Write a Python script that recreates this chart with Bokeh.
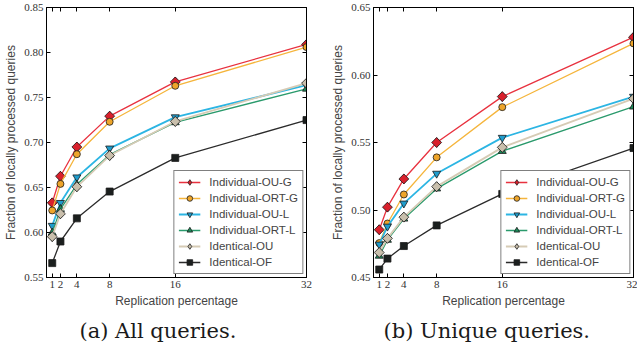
import math
from bokeh.plotting import figure
from bokeh.layouts import row
from bokeh.models import (Range1d, FixedTicker, LinearAxis, Legend, LegendItem,
                          Title, PrintfTickFormatter, CustomJSTickFormatter)
from bokeh.embed import file_html
from bokeh.resources import INLINE

# ---------------- data ----------------
x_pct = [1, 2, 4, 8, 16, 32]
x_ticks = [1, 2, 4, 8, 16, 32]

series_names = ["Individual-OU-G", "Individual-ORT-G", "Individual-OU-L",
                "Individual-ORT-L", "Identical-OU", "Identical-OF"]

# (a) All queries
all_ou_g = [0.633, 0.6625, 0.695, 0.7293, 0.7673, 0.809]
all_ort_g = [0.6245, 0.654, 0.687, 0.723, 0.763, 0.806]
all_ou_l = [0.6076, 0.633, 0.6614, 0.6935, 0.7282, 0.7637]
all_ort_l = [0.5997, 0.626, 0.6533, 0.6865, 0.7223, 0.7596]
all_ident_ou = [0.5954, 0.6208, 0.6508, 0.6855, 0.7234, 0.7659]
all_ident_of = [0.566, 0.590, 0.6157, 0.6455, 0.6829, 0.7249]

# (b) Unique queries
uniq_ou_g = [0.4854, 0.5021, 0.523, 0.550, 0.584, 0.628]
uniq_ort_g = [0.4755, 0.490, 0.5115, 0.539, 0.5762, 0.6234]
uniq_ou_l = [0.4745, 0.4878, 0.5049, 0.527, 0.5536, 0.584]
uniq_ort_l = [0.466, 0.4778, 0.4935, 0.5158, 0.5436, 0.5765]
uniq_ident_ou = [0.4685, 0.479, 0.4947, 0.5173, 0.5464, 0.5825]
uniq_ident_of = [0.4559, 0.464, 0.4733, 0.4886, 0.5119, 0.5459]

y_ticks_all = [0.55, 0.60, 0.65, 0.70, 0.75, 0.80, 0.85]
y_ticks_uniq = [0.45, 0.50, 0.55, 0.60, 0.65]

x_label = "Replication percentage"
y_label = "Fraction of locally processed queries"
caption_all = "(a) All queries."
caption_uniq = "(b) Unique queries."

# ---------------- styles ----------------
line_colors = ["#e8323f", "#f5b53c", "#2cb5e3", "#2a9a6c", "#d6cbb5", "#2b2b2b"]
fill_colors = ["#d9202c", "#eea52a", "#1f9ccc", "#1d8a5a", "#c9bfac", "#1b1f1e"]
markers = ["square", "circle", "inverted_triangle", "triangle", "square", "square"]
angles = [math.pi / 4, 0, 0, 0, math.pi / 4, 0]
sizes = [7, 7, 8, 8, 7, 7]
# marker shown in the legend (Bokeh's legend ignores marker angle)
legend_markers = ["diamond", None, None, None, "diamond", None]
legend_sizes = [9.6, 0, 0, 0, 9.6, 0]
line_widths = [1.3, 1.3, 1.8, 1.3, 1.8, 1.3]

SANS = "Liberation Sans"
SERIF = "Liberation Serif"
CAP_SERIF = "DejaVu Serif"


def style_axis(ax, ticks, labels):
    ax.ticker = FixedTicker(ticks=ticks)
    ax.axis_line_color = "black"
    ax.major_tick_in = 4
    ax.major_tick_out = 0
    ax.minor_tick_line_color = None
    ax.major_tick_line_color = "black"
    if labels:
        ax.major_label_text_font = SERIF
        ax.major_label_text_font_size = "11px"
        ax.major_label_text_color = "#333333"
        ax.major_label_standoff = 3
    else:
        ax.formatter = CustomJSTickFormatter(code="return ''")
        ax.major_label_standoff = 0


def make_panel(series, y_lo, y_hi, y_ticks, caption, cap_offset, width, border_right):
    p = figure(width=width, height=349, output_backend="svg", toolbar_location=None,
               x_range=Range1d(0.3, 32), y_range=Range1d(y_lo, y_hi),
               min_border_left=46, min_border_right=border_right,
               min_border_top=7, min_border_bottom=71, x_axis_type=None,
               y_axis_type=None)
    p.grid.visible = False
    p.outline_line_color = "black"
    p.background_fill_color = "white"
    p.border_fill_color = "white"

    xb = LinearAxis()
    style_axis(xb, x_ticks, True)
    xb.axis_label = x_label
    xb.axis_label_text_font = SANS
    xb.axis_label_text_font_size = "12px"
    xb.axis_label_text_font_style = "normal"
    xb.axis_label_standoff = 3
    p.add_layout(xb, "below")

    xt = LinearAxis()
    style_axis(xt, x_ticks, False)
    p.add_layout(xt, "above")

    yl = LinearAxis(formatter=PrintfTickFormatter(format="%.2f"))
    style_axis(yl, y_ticks, True)
    yl.axis_label = y_label
    yl.axis_label_text_font = SANS
    yl.axis_label_text_font_size = "12px"
    yl.axis_label_text_font_style = "normal"
    yl.axis_label_standoff = 3
    p.add_layout(yl, "left")

    yr = LinearAxis()
    style_axis(yr, y_ticks, False)
    p.add_layout(yr, "right")

    items = []
    for i, (name, ys) in enumerate(zip(series_names, series)):
        lr = p.line(x_pct, ys, line_color=line_colors[i], line_width=line_widths[i])
        lg = None
        if legend_markers[i] is not None:
            # drawn underneath the rotated square, used for the legend glyph
            lg = p.scatter(x_pct, ys, marker=legend_markers[i], size=legend_sizes[i],
                           fill_color=fill_colors[i], line_color="#1a1a1a",
                           line_width=0.8)
        sr = p.scatter(x_pct, ys, marker=markers[i], angle=angles[i], size=sizes[i],
                       fill_color=fill_colors[i], line_color="#1a1a1a", line_width=0.8)
        items.append(LegendItem(label=name, renderers=[lr, lg if lg is not None else sr]))

    leg = Legend(items=items, location="bottom_right")
    leg.margin = 3
    leg.padding = 4
    leg.spacing = 2
    leg.glyph_width = 22
    leg.glyph_height = 14
    leg.label_height = 14
    leg.label_standoff = 9
    leg.label_text_font = SANS
    leg.label_text_font_size = "11.5px"
    leg.border_line_color = "black"
    leg.border_line_width = 1
    leg.background_fill_color = "white"
    leg.background_fill_alpha = 1.0
    p.add_layout(leg)

    cap = Title(text=caption, align="left", offset=cap_offset,
                text_font=CAP_SERIF, text_font_size="21px", text_font_style="normal",
                text_color="#1a1a1a", standoff=13)
    p.add_layout(cap, "below")
    return p


p1 = make_panel([all_ou_g, all_ort_g, all_ou_l, all_ort_l, all_ident_ou, all_ident_of],
                0.55, 0.85, y_ticks_all, caption_all, 33, 327, 21)
p2 = make_panel([uniq_ou_g, uniq_ort_g, uniq_ou_l, uniq_ort_l, uniq_ident_ou, uniq_ident_of],
                0.45, 0.65, y_ticks_uniq, caption_uniq, 10, 310, 4)

layout = row(p1, p2)
open("out.html", "w").write(file_html(layout, INLINE))
